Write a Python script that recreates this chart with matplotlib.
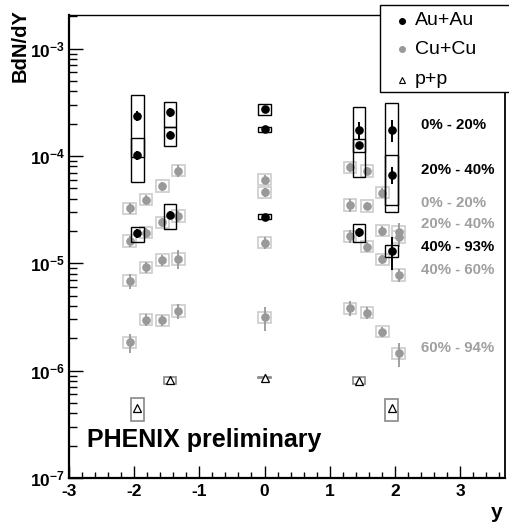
import numpy as np
import matplotlib
matplotlib.use("Agg")
import matplotlib.pyplot as plt
from matplotlib.patches import Rectangle
from matplotlib.lines import Line2D
from matplotlib.ticker import LogLocator, FixedLocator, MultipleLocator, FuncFormatter

plt.rcParams["font.family"] = ["Liberation Sans", "DejaVu Sans"]
plt.rcParams["mathtext.fontset"] = "custom"
plt.rcParams["mathtext.bf"] = "Liberation Sans:bold"
plt.rcParams["mathtext.rm"] = "Liberation Sans"

# ---- data ----
# Au+Au, centralities 0-20%, 20-40%, 40-93% at 5 rapidities
au_y = [-1.95, -1.45, 0.0, 1.45, 1.95]
au_0_20 = [2.37e-4, 2.55e-4, 2.74e-4, 1.75e-4, 1.75e-4]
au_20_40 = [1.02e-4, 1.57e-4, 1.78e-4, 1.26e-4, 6.65e-5]
au_40_93 = [1.90e-5, 2.82e-5, 2.72e-5, 1.95e-5, 1.31e-5]
au_err_0_20 = [0.10, 0.10, 0.06, 0.18, 0.23]      # relative stat. errors
au_err_20_40 = [0.10, 0.08, 0.05, 0.08, 0.18]
au_err_40_93 = [0.10, 0.08, 0.06, 0.10, 0.34]
au_sys_lo_0_20 = [9.84e-5, 1.87e-4, 2.40e-4, 6.33e-5, 3.03e-5]
au_sys_hi_0_20 = [3.70e-4, 3.20e-4, 3.03e-4, 2.88e-4, 3.13e-4]
au_sys_lo_20_40 = [5.75e-5, 1.24e-4, 1.68e-4, 1.10e-4, 3.49e-5]
au_sys_hi_20_40 = [1.46e-4, 1.87e-4, 1.87e-4, 1.43e-4, 1.02e-4]
au_sys_lo_40_93 = [1.57e-5, 2.08e-5, 2.59e-5, 1.57e-5, 1.14e-5]
au_sys_hi_40_93 = [2.19e-5, 3.55e-5, 2.86e-5, 2.32e-5, 1.48e-5]

# Cu+Cu, centralities 0-20%, 20-40%, 40-60%, 60-94% at 9 rapidities
cu_y = [-2.07, -1.82, -1.57, -1.32, 0.0, 1.31, 1.57, 1.81, 2.06]
cu_0_20 = [3.25e-5, 3.93e-5, 5.25e-5, 7.30e-5, 6.04e-5, 7.83e-5, 7.24e-5, 4.55e-5, 1.96e-5]
cu_20_40 = [1.62e-5, 1.93e-5, 2.41e-5, 2.76e-5, 4.60e-5, 3.49e-5, 3.42e-5, 2.01e-5, 1.76e-5]
cu_40_60 = [6.89e-6, 9.18e-6, 1.07e-5, 1.10e-5, 1.56e-5, 1.79e-5, 1.43e-5, 1.09e-5, 7.78e-6]
cu_60_94 = [1.84e-6, 2.99e-6, 2.94e-6, 3.61e-6, 3.13e-6, 3.81e-6, 3.47e-6, 2.31e-6, 1.45e-6]
cu_err_0_20 = [0.12, 0.10, 0.10, 0.12, 0.10, 0.10, 0.08, 0.10, 0.20]
cu_err_20_40 = [0.12, 0.10, 0.10, 0.12, 0.10, 0.14, 0.08, 0.10, 0.20]
cu_err_40_60 = [0.16, 0.12, 0.12, 0.20, 0.12, 0.14, 0.10, 0.10, 0.14]
cu_err_60_94 = [0.20, 0.12, 0.12, 0.16, 0.25, 0.16, 0.12, 0.10, 0.25]
cu_sys_rel = 0.13

# p+p
pp_y = [-1.95, -1.45, 0.0, 1.45, 1.95]
pp_val = [4.46e-7, 8.18e-7, 8.60e-7, 8.06e-7, 4.46e-7]
pp_err = [0.02, 0.02, 0.08, 0.02, 0.02]
pp_sys_lo = [3.42e-7, 7.46e-7, 8.56e-7, 7.50e-7, 3.42e-7]
pp_sys_hi = [5.53e-7, 8.73e-7, 8.64e-7, 8.70e-7, 5.45e-7]

labels = [("0% - 20%", 1.94e-4, "black"), ("20% - 40%", 7.4e-5, "black"),
          ("0% - 20%", 3.62e-5, "#a0a0a0"), ("20% - 40%", 2.32e-5, "#a0a0a0"),
          ("40% - 93%", 1.43e-5, "black"), ("40% - 60%", 8.66e-6, "#a0a0a0"),
          ("60% - 94%", 1.61e-6, "#a0a0a0")]

W, H = 510, 523
fig = plt.figure(figsize=(W / 100, H / 100), dpi=100)
ax = fig.add_axes([69 / W, 1 - 478 / H, (505 - 69) / W, (478 - 15) / H])
ax.set_yscale("log")
ax.set_xlim(-3, 3.69)
ax.set_ylim(1e-7, 2.06e-3)

hw = 0.097
GRAY = "#999999"
BOXG = "#cccccc"

def boxes(xs, lo, hi, color, lw, z):
    for x, l, h in zip(xs, lo, hi):
        ax.add_patch(Rectangle((x - hw, l), 2 * hw, h - l, fill=False,
                               edgecolor=color, lw=lw, zorder=z))

# Cu+Cu
for vals, errs in [(cu_0_20, cu_err_0_20), (cu_20_40, cu_err_20_40),
                   (cu_40_60, cu_err_40_60), (cu_60_94, cu_err_60_94)]:
    v = np.array(vals)
    boxes(cu_y, v / (1 + cu_sys_rel), v * (1 + cu_sys_rel), BOXG, 1.2, 2)
    ax.errorbar(cu_y, v, yerr=v * np.array(errs), fmt="o", color=GRAY, ms=5.2,
                elinewidth=1.3, capsize=0, zorder=3)

# Au+Au
for vals, errs, lo, hi in [(au_0_20, au_err_0_20, au_sys_lo_0_20, au_sys_hi_0_20),
                           (au_20_40, au_err_20_40, au_sys_lo_20_40, au_sys_hi_20_40),
                           (au_40_93, au_err_40_93, au_sys_lo_40_93, au_sys_hi_40_93)]:
    v = np.array(vals)
    boxes(au_y, lo, hi, "black", 1.0, 4)
    ax.errorbar(au_y, v, yerr=v * np.array(errs), fmt="o", color="black", ms=5.2,
                elinewidth=1.4, capsize=0, zorder=5)

# p+p
pv = np.array(pp_val)
boxes(pp_y, pp_sys_lo, pp_sys_hi, "#888888", 1.2, 4)
ax.errorbar(pp_y, pv, yerr=pv * np.array(pp_err), fmt="^", mfc="white", mec="black",
            color="black", ms=5.5, mew=0.9, elinewidth=1.0, capsize=0, zorder=5)

for txt, yv, c in labels:
    ax.text(2.40, yv, txt, color=c, fontsize=10.8, fontweight="bold",
            ha="left", va="center", zorder=6)

# axes styling
ax.xaxis.set_major_locator(MultipleLocator(1))
ax.xaxis.set_minor_locator(MultipleLocator(0.2))
ax.yaxis.set_major_locator(FixedLocator([1e-7, 1e-6, 1e-5, 1e-4, 1e-3]))
ax.yaxis.set_minor_locator(LogLocator(base=10, subs=np.arange(2, 10), numticks=20))
ax.yaxis.set_minor_formatter(FuncFormatter(lambda v, p: ""))
ax.yaxis.set_major_formatter(FuncFormatter(
    lambda v, p: r"$\mathbf{10^{%d}}$" % int(round(np.log10(v)))))
ax.xaxis.set_major_formatter(FuncFormatter(lambda v, p: "%d" % round(v)))
ax.tick_params(axis="x", which="major", direction="in", length=9, width=1.0,
               labelsize=12.5, pad=4, top=False)
ax.tick_params(axis="x", which="minor", direction="in", length=4.5, width=1.0, top=False)
ax.tick_params(axis="y", which="major", direction="in", length=10, width=1.0,
               labelsize=12.5, pad=3, right=False)
ax.tick_params(axis="y", which="minor", direction="in", length=5.5, width=1.0, right=False)
for lab in ax.get_xticklabels():
    lab.set_fontweight("bold")
ax.spines["left"].set_linewidth(1.6)
ax.spines["bottom"].set_linewidth(1.6)
ax.spines["top"].set_linewidth(1.0)
ax.spines["right"].set_linewidth(1.3)

fig.text(20 / W, 1 - 9 / H, "BdN/dY", rotation=90, ha="center", va="top",
         fontsize=14.5, fontweight="bold")
fig.text(497 / W, 1 - 513 / H, "y", ha="center", va="center",
         fontsize=15, fontweight="bold")
fig.text(87 / W, 1 - 440 / H, "PHENIX preliminary", ha="left", va="center",
         fontsize=18, fontweight="bold")

# legend box drawn on top of the frame
fig.add_artist(Rectangle((380 / W, 1 - 91.5 / H), 0.4, (91.5 - 5) / H,
                         transform=fig.transFigure, facecolor="white",
                         edgecolor="black", lw=1.0, zorder=10))
leg = [("Au+Au", "o", "black", "black", 20.5), ("Cu+Cu", "o", GRAY, GRAY, 49),
       ("p+p", "^", "white", "black", 79.5)]
for name, m, fc, ec, py in leg:
    fig.add_artist(Line2D([401.7 / W], [1 - py / H], transform=fig.transFigure,
                          marker=m, ms=4.2, mfc=fc, mec=ec, mew=0.8, ls="none", zorder=11))
    fig.text(415 / W, 1 - (py + 4.5) / H, name, ha="left", va="baseline",
             fontsize=14, zorder=12)

fig.savefig("out.png", dpi=100)
